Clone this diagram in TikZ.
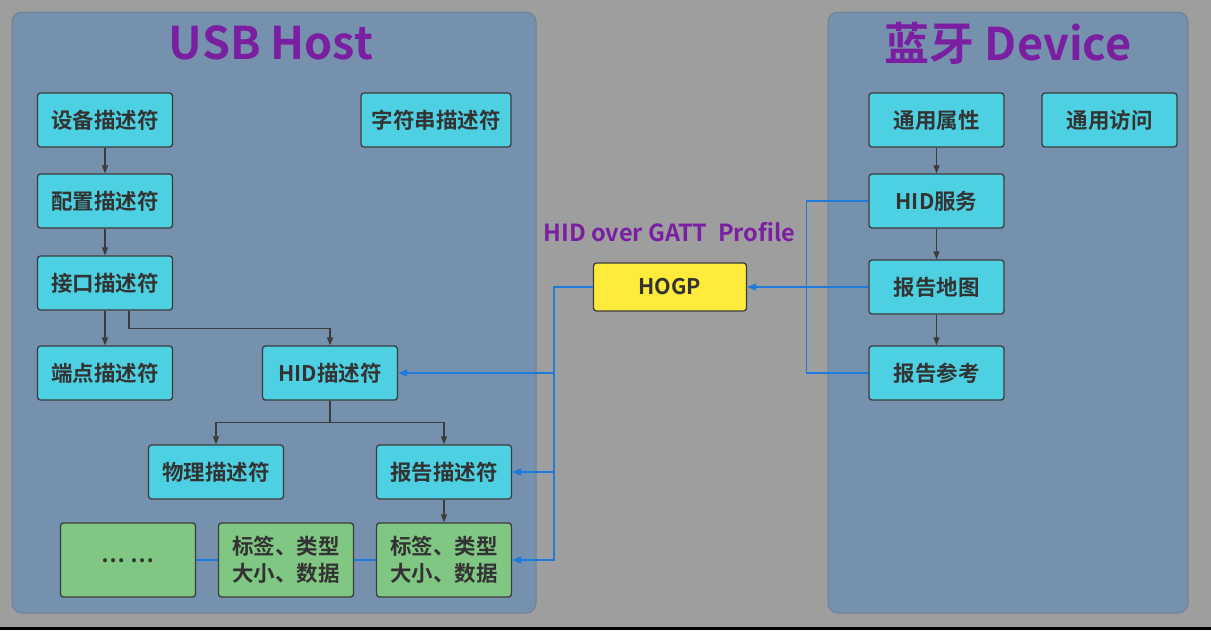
\documentclass[tikz,border=0pt]{standalone}
\usepackage{fontspec}
\setmainfont{Noto Sans CJK SC}[BoldFont={Noto Sans CJK SC Bold}]
\usetikzlibrary{arrows.meta,calc}
\definecolor{bggray}{HTML}{9E9E9E}
\definecolor{panel}{HTML}{7591AD}
\definecolor{panelline}{HTML}{6C8299}
\definecolor{cyanbox}{HTML}{4DD0E1}
\definecolor{greenbox}{HTML}{81C784}
\definecolor{yellowbox}{HTML}{FFEB3B}
\definecolor{boxline}{HTML}{3C3C3C}
\definecolor{txt}{HTML}{333333}
\definecolor{conn}{HTML}{1E7BDC}
\definecolor{ttl}{HTML}{7B1FA2}
\tikzset{
  panelbox/.style={fill=panel,draw=panelline,line width=1pt,rounded corners=10pt},
  basebox/.style={rectangle,rounded corners=3pt,draw=boxline,line width=1.3pt,
    minimum width=135pt,minimum height=54pt,inner sep=0pt,text=txt,
    font=\fontsize{21.5}{27}\selectfont\bfseries,align=center},
  cbox/.style={basebox,fill=cyanbox},
  gbox/.style={basebox,fill=greenbox,minimum height=74pt},
  ybox/.style={basebox,fill=yellowbox,minimum width=153pt,minimum height=48pt},
  darr/.style={draw=boxline,line width=1.2pt,-{Triangle[length=8pt,width=6pt]}},
  bl/.style={draw=conn,line width=1.5pt},
  blarr/.style={bl,-{Triangle[length=9pt,width=7pt]}},
  titlefont/.style={text=ttl,font=\fontsize{45}{50}\selectfont\bfseries,inner sep=0pt}
}
\begin{document}
\begin{tikzpicture}[x=1pt,y=-1pt]
\path[fill=bggray] (0,0) rectangle (1211,630);
\useasboundingbox (0,0) rectangle (1211,630);
\path[fill=black] (0,627) rectangle (1211,630);
% panels
\path[panelbox] (12,12) rectangle (536,613);
\path[panelbox] (828,12) rectangle (1188,613);
% titles
\node[titlefont] (t1) at (271,43) {USB Host};
\node[titlefont] (t2) at (1008,43) {蓝牙 Device};
\node[text=ttl,font=\fontsize{23.5}{27}\selectfont\bfseries,inner sep=0pt] (lab) at (669.5,232) {HID over GATT\ \ Profile};
% left boxes
\node[cbox] (sb) at (105,120) {设备描述符};
\node[cbox,minimum width=150pt] (zf) at (436,120) {字符串描述符};
\node[cbox] (pz) at (105,201) {配置描述符};
\node[cbox] (jk) at (105,283) {接口描述符};
\node[cbox] (dd) at (105,373) {端点描述符};
\node[cbox] (hid) at (330,373) {HID描述符};
\node[cbox] (wl) at (216,472) {物理描述符};
\node[cbox] (bg) at (444,472) {报告描述符};
\node[gbox] (dots) at (128,560) {\raisebox{-5pt}{… …}};
\node[gbox] (tag1) at (286,560) {标签、类型\\大小、数据};
\node[gbox] (tag2) at (444,560) {标签、类型\\大小、数据};
% right boxes
\node[cbox] (ty) at (936.5,120) {通用属性};
\node[cbox] (fw) at (1109.5,120) {通用访问};
\node[cbox] (hs) at (936.5,201) {HID服务};
\node[cbox] (bt) at (936.5,287) {报告地图};
\node[cbox] (bc) at (936.5,373) {报告参考};
% HOGP
\node[ybox] (hogp) at (670,287) {HOGP};
% dark arrows
\draw[darr] (sb) -- (pz);
\draw[darr] (pz) -- (jk);
\draw[darr] (jk) -- (dd);
\draw[darr] ([xshift=24pt]jk.south) -- ++(0,18) -| (hid.north);
\draw[darr] (hid.south) -- ++(0,22) -| (wl.north);
\draw[darr] (hid.south) -- ++(0,22) -| (bg.north);
\draw[darr] (bg) -- (tag2);
\draw[darr] (ty) -- (hs);
\draw[darr] (hs) -- (bt);
\draw[darr] (bt) -- (bc);
% blue connectors
\coordinate (bx) at ([xshift=42pt]bg.east);
\draw[blarr] (hogp.west) -| (bx |- tag2.east) -- (tag2.east);
\draw[blarr] (bx |- hid.east) -- (hid.east);
\draw[blarr] (bx |- bg.east) -- (bg.east);
\draw[bl] (tag2.west) -- (tag1.east);
\draw[bl] (tag1.west) -- (dots.east);
\draw[blarr] (bt.west) -- (hogp.east);
\draw[bl] (hs.west) -- ++(-62,0) |- (bc.west);
\end{tikzpicture}
\end{document}
